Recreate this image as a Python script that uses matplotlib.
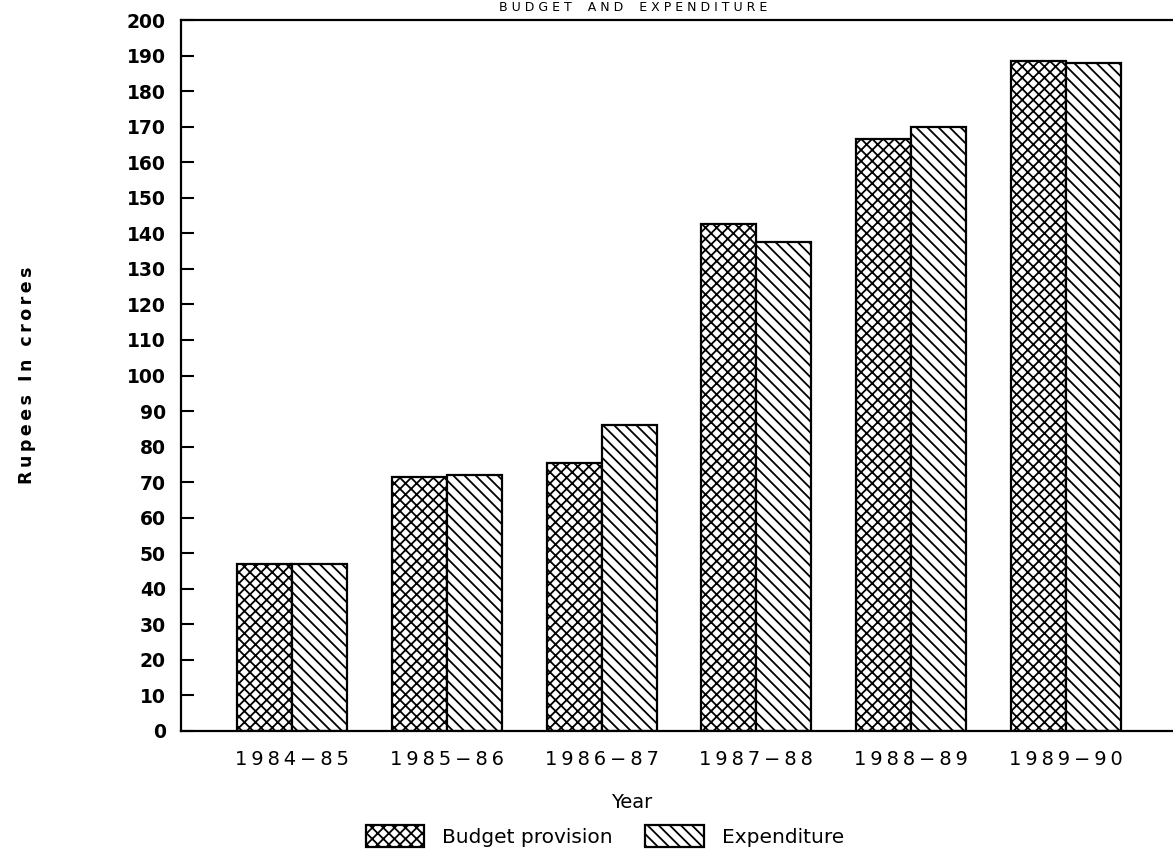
import matplotlib
matplotlib.use("Agg")
import matplotlib.pyplot as plt
import numpy as np

years = ["1984-85", "1985-86", "1986-87", "1987-88", "1988-89", "1989-90"]
budget = [47, 71.5, 75.5, 142.5, 166.5, 188.5]
expenditure = [47, 72, 86, 137.5, 170, 188]
yticks = list(range(0, 201, 10))

plt.rcParams["font.family"] = "DejaVu Sans"
plt.rcParams["hatch.linewidth"] = 1.3
plt.rcParams["hatch.color"] = "black"

W, H = 1173, 858
fig = plt.figure(figsize=(W / 100, H / 100), dpi=100)
ax = fig.add_axes([181 / W, (H - 731) / H, (1185 - 181) / W, (731 - 20) / H])


def spaced(s, sep="\u2009"):
    return sep.join(s.replace("-", "\u2212"))


x = np.arange(len(years))
bw = 0.356
ax.bar(x - bw / 2, budget, width=bw, facecolor="white", edgecolor="black",
       linewidth=1.6, hatch="xxx", label="Budget provision")
ax.bar(x + bw / 2, expenditure, width=bw, facecolor="white", edgecolor="black",
       linewidth=1.6, hatch="\\\\\\", label="Expenditure")

ax.set_xlim(-0.718, 5.77)
ax.set_ylim(0, 200)
ax.set_yticks(yticks)
ax.set_yticklabels([str(v) for v in yticks], fontsize=13.5, fontweight="bold")
ax.set_xticks(x)
ax.set_xticklabels([spaced(y) for y in years], fontsize=14)
ax.tick_params(axis="y", direction="in", length=9.5, width=1.5, pad=11)
ax.tick_params(axis="x", length=0, pad=14)
for side in ["left", "bottom", "top"]:
    ax.spines[side].set_linewidth(1.6)
ax.spines["right"].set_visible(False)

fig.text(633 / W, 1 - 1 / H, "B U D G E T    A N D    E X P E N D I T U R E",
         ha="center", va="top", fontsize=9)
fig.text(27 / W, 1 - 375 / H, spaced("Rupees In crores"), rotation=90,
         ha="center", va="center", fontsize=12.5, fontweight="bold")
fig.text(632 / W, 1 - 802 / H, "Year", ha="center", va="center", fontsize=14)

handles, labels = ax.get_legend_handles_labels()
fig.legend(handles, labels, loc="center", bbox_to_anchor=(605 / W, 1 - 836 / H),
           ncol=2, frameon=False, fontsize=14.5, handlelength=2.9,
           handleheight=1.35, handletextpad=0.9, columnspacing=1.6,
           borderpad=0.2)

fig.savefig("out.png", dpi=100)
